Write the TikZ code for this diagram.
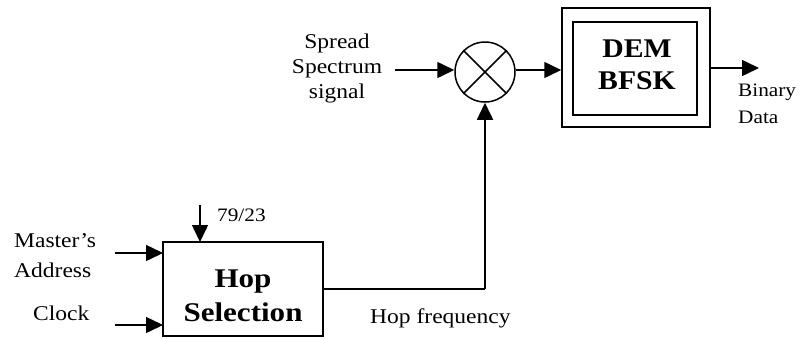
\documentclass[tikz,border=0pt]{standalone}
\usepackage{fontspec}
\setmainfont{Liberation Serif}
\usetikzlibrary{arrows.meta}
\newcommand\wx[1]{\scalebox{1.12}[1]{#1}}
\begin{document}
\begin{tikzpicture}[x=1pt,y=-1pt,
  line/.style={line width=1.5pt},
  arr/.style={line width=1.5pt,-{Triangle[length=17pt,width=16pt]}},
  lbl/.style={font=\fontsize{21}{25}\selectfont,align=center,inner sep=0pt},
  big/.style={font=\fontsize{27}{36}\selectfont\bfseries,align=center,inner sep=0pt},
  blk/.style={draw,line width=1.5pt,inner sep=0pt}]
\useasboundingbox (0,0) rectangle (803,338);
% Hop selection box
\node[blk,minimum width=160pt,minimum height=94pt] (hop) at (243,289) {};
\node[big] (hoptxt) at (243,296) {\scalebox{1.15}[1]{Hop}\\[-2pt]\scalebox{1.15}[1]{Selection}};
% inputs
\coordinate (n79) at (200,205);
\coordinate (hoptop) at (200,242);
\draw[arr] (n79) -- (hoptop);
\node[lbl,anchor=west,font=\fontsize{19}{22}\selectfont] (t79) at (217,215) {\wx{79/23}};
\node[lbl,anchor=west,align=left,font=\fontsize{21}{30}\selectfont] (ma) at (14,256) {\wx{Master's}\\\wx{Address}};
\coordinate (maS) at (115,253);
\coordinate (maE) at (163,253);
\draw[arr] (maS) -- (maE);
\node[lbl,anchor=west] (clk) at (33,313) {\wx{Clock}};
\coordinate (clS) at (115,325);
\coordinate (clE) at (163,325);
\draw[arr] (clS) -- (clE);
% mixer
\node[draw,circle,line width=1.5pt,minimum size=60pt,inner sep=0pt] (mix) at (485,72) {};
\draw[line width=1.5pt] (mix.north west) -- (mix.south east) (mix.north east) -- (mix.south west);
% hop frequency line
\coordinate (hf) at (485,289);
\draw[line] (hop.east |- hf) -- (hf);
\draw[arr] (hf) -- (mix.south);
\node[lbl,anchor=west] (hftxt) at (370,318) {\wx{Hop frequency}};
% spread spectrum
\node[lbl] (ss) at (337,68) {\wx{Spread}\\\wx{Spectrum}\\\wx{signal}};
\coordinate (ssS) at (395,70);
\draw[arr] (ssS) -- (mix.west |- ssS);
% DEM BFSK
\node[blk,minimum width=148pt,minimum height=119pt] (demo) at (636,67.5) {};
\node[blk,minimum width=124pt,minimum height=93pt] (demi) at (635,68.5) {};
\node[big] (demtxt) at (637,65) {\scalebox{1.1}[1]{DEM}\\[-4pt]\scalebox{1.1}[1]{BFSK}};
\draw[arr] (mix.east |- 0,70) -- (demo.west |- 0,70);
\coordinate (outE) at (759,68);
\draw[arr] (demo.east |- outE) -- (outE);
\node[lbl,anchor=west,align=left,font=\fontsize{19}{27}\selectfont] (bd) at (738,104) {\wx{Binary}\\\wx{Data}};
\end{tikzpicture}
\end{document}
